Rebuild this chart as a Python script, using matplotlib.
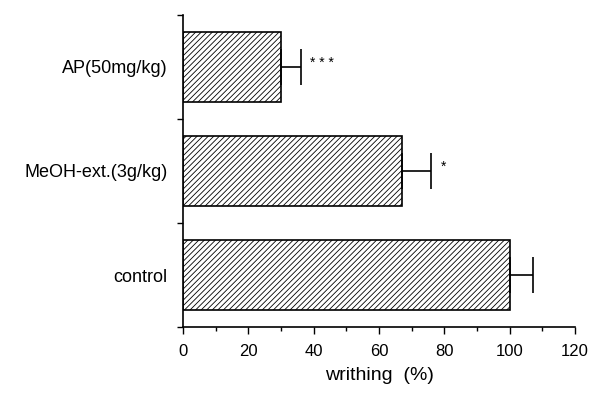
import matplotlib
matplotlib.use('Agg')
import matplotlib.pyplot as plt

# data, bottom to top
groups = ['control', 'MeOH-ext.(3g/kg)', 'AP(50mg/kg)']
writhing = [100, 67, 30]
sem = [7, 9, 6]
stars = ['', '*', '* * *']

plt.rcParams['font.family'] = ['Liberation Sans', 'DejaVu Sans']
plt.rcParams['hatch.linewidth'] = 0.6

fig = plt.figure(figsize=(5.93, 3.97), dpi=100)
ax = fig.add_axes([0.3086, 0.1763, 0.661, 0.786])

pos = [i + 0.5 for i in range(len(groups))]
ax.barh(pos, writhing, height=0.67, color='white', edgecolor='black',
        hatch='//////', linewidth=1.2)
ax.errorbar(writhing, pos, xerr=[[0] * len(sem), sem], fmt='none',
            ecolor='black', elinewidth=1.2, capsize=13, capthick=1.2)

for p, v, e, s in zip(pos, writhing, sem, stars):
    if s:
        ax.text(v + e + 3, p + 0.04, s, fontsize=10, ha='left', va='center')

ax.set_xlim(0, 120)
ax.set_ylim(0, 3)
ax.set_xticks(range(0, 121, 20))
ax.set_xticks(range(10, 120, 20), minor=True)
ax.tick_params(axis='x', which='major', length=5, width=1, labelsize=12, pad=7)
ax.tick_params(axis='x', which='minor', length=3, width=1)

ax.set_yticks(pos)
ax.set_yticklabels(groups, fontsize=13)
ax.set_yticks([0, 1, 2, 3], minor=True)
ax.tick_params(axis='y', which='major', length=0, pad=11)
ax.tick_params(axis='y', which='minor', length=4, width=1)

for side in ['top', 'right']:
    ax.spines[side].set_visible(False)
for side in ['left', 'bottom']:
    ax.spines[side].set_linewidth(1.2)

ax.set_xlabel('writhing  (%)', fontsize=14, labelpad=6)

plt.savefig('out.png', dpi=100)
plt.close()
